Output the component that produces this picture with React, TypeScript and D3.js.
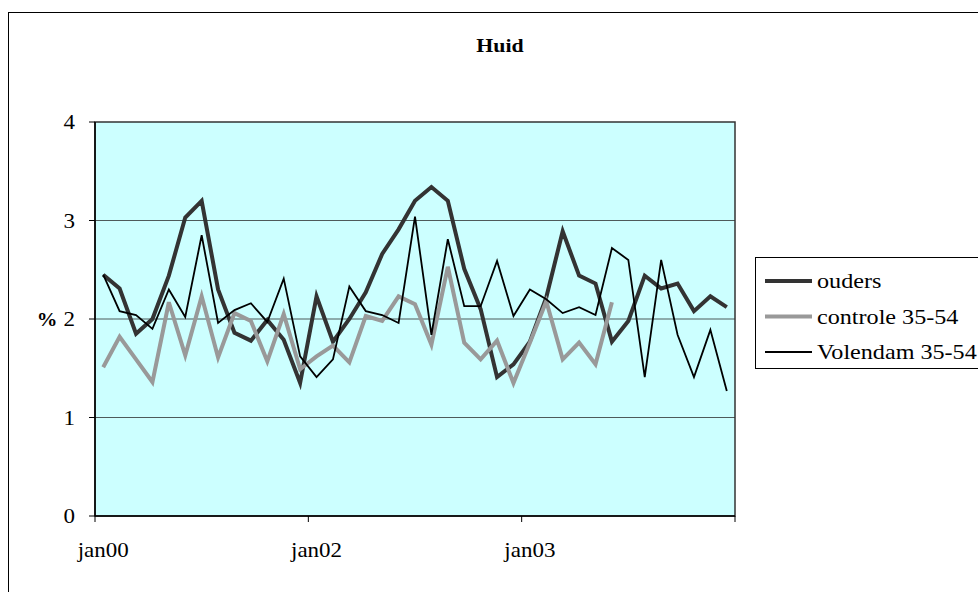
import { useMemo } from "react";
import { scaleLinear, scalePoint, line } from "d3";

// monthly readings, 39 periods on the category axis
const ouders = [
  2.45, 2.31, 1.85, 2.0, 2.44, 3.03, 3.2, 2.3, 1.86, 1.78, 1.99, 1.79, 1.35,
  2.23, 1.77, 2.0, 2.27, 2.66, 2.91, 3.2, 3.34, 3.2, 2.51, 2.1, 1.41, 1.54,
  1.77, 2.22, 2.89, 2.44, 2.36, 1.77, 1.98, 2.44, 2.31, 2.36, 2.08, 2.23, 2.12,
];
const controle = [
  1.51, 1.82, 1.59, 1.36, 2.17, 1.63, 2.23, 1.61, 2.06, 1.98, 1.57, 2.05, 1.49,
  1.62, 1.73, 1.56, 2.03, 1.98, 2.23, 2.15, 1.74, 2.53, 1.76, 1.59, 1.78, 1.35,
  1.76, 2.18, 1.59, 1.76, 1.54, 2.17,
];
const volendam = [
  2.45, 2.08, 2.04, 1.9, 2.3, 2.02, 2.85, 1.96, 2.09, 2.16, 1.97, 2.41, 1.62,
  1.41, 1.59, 2.33, 2.08, 2.04, 1.96, 3.04, 1.84, 2.81, 2.13, 2.13, 2.59, 2.03,
  2.3, 2.2, 2.06, 2.12, 2.04, 2.72, 2.6, 1.41, 2.6, 1.84, 1.41, 1.89, 1.27,
];
const xLabels = ["jan00", "jan02", "jan03"];
const yTicks = [0, 1, 2, 3, 4];
const tickEvery = 13;

const series = [
  { name: "ouders", values: ouders, color: "#333333", width: 4 },
  { name: "controle 35-54", values: controle, color: "#999999", width: 4 },
  { name: "Volendam 35-54", values: volendam, color: "#000000", width: 1.8 },
];

const serif = { fontFamily: "Liberation Serif" };
const sx = 1.15; // the original text is slightly stretched horizontally

// text at (x, y) with horizontal stretch, anchored as asked
function T(props: {
  x: number;
  y: number;
  size: number;
  anchor?: "start" | "middle" | "end";
  bold?: boolean;
  children: string | number;
}) {
  return (
    <text
      transform={`translate(${props.x},${props.y}) scale(${sx},1)`}
      textAnchor={props.anchor || "start"}
      fontSize={props.size}
      fontWeight={props.bold ? "bold" : "normal"}
      style={serif}
    >
      {props.children}
    </text>
  );
}

export default function App() {
  const left = 95,
    right = 735,
    top = 122,
    bottom = 516;

  const cats = useMemo(() => ouders.map((_, i) => i), []);
  const x = scalePoint<number>().domain(cats).range([left, right]).padding(0.5);
  const y = scaleLinear().domain([0, 4]).range([bottom, top]);
  const step = x.step();

  const path = line<number>()
    .x((_, i) => x(i) as number)
    .y((d) => y(d));

  const tickXs = [0, 1, 2, 3].map((k) => left + k * tickEvery * step);

  return (
    <svg
      width={978}
      height={592}
      style={{ position: "absolute", left: 0, top: 0, background: "#fff" }}
    >
      <rect x={8.5} y={12.5} width={1000} height={620} fill="#fff" stroke="#000" strokeWidth={1} />
      <T x={500} y={52} size={19} anchor="middle" bold>
        Huid
      </T>

      <rect x={left} y={top} width={right - left} height={bottom - top} fill="#CCFFFF" />
      {yTicks
        .filter((t) => t > 0 && t < 4)
        .map((t) => (
          <line key={t} x1={left} x2={right} y1={y(t)} y2={y(t)} stroke="#4d5a5a" strokeWidth={1.2} />
        ))}
      <rect
        x={left}
        y={top}
        width={right - left}
        height={bottom - top}
        fill="none"
        stroke="#333"
        strokeWidth={1.5}
      />

      {/* y axis */}
      <line x1={left} x2={left} y1={top} y2={bottom} stroke="#000" strokeWidth={1.5} />
      {yTicks.map((t) => (
        <g key={t}>
          <line x1={left - 6} x2={left} y1={y(t)} y2={y(t)} stroke="#000" />
          <T x={75} y={y(t) + 7} size={20} anchor="end">
            {t}
          </T>
        </g>
      ))}
      <T x={47} y={y(2) + 7} size={18} anchor="middle" bold>
        %
      </T>

      {/* x axis */}
      <line x1={left} x2={right} y1={bottom} y2={bottom} stroke="#000" strokeWidth={1.5} />
      {tickXs.map((tx, k) => (
        <line key={k} x1={tx} x2={tx} y1={bottom} y2={bottom + 6} stroke="#000" />
      ))}
      {xLabels.map((lab, k) => (
        <T key={lab} x={x(k * tickEvery) as number} y={557} size={20} anchor="middle">
          {lab}
        </T>
      ))}

      {/* series */}
      {series.map((s) => (
        <path
          key={s.name}
          d={path(s.values) || ""}
          fill="none"
          stroke={s.color}
          strokeWidth={s.width}
          strokeLinejoin="miter"
        />
      ))}

      {/* legend */}
      <rect x={755.5} y={257.5} width={260} height={111} fill="#fff" stroke="#000" strokeWidth={1} />
      {series.map((s, i) => {
        const ly = 281 + i * 35.5;
        return (
          <g key={s.name}>
            <line x1={765} x2={812} y1={ly} y2={ly} stroke={s.color} strokeWidth={s.width} />
            <T x={817} y={ly + 7} size={21}>
              {s.name}
            </T>
          </g>
        );
      })}
    </svg>
  );
}
